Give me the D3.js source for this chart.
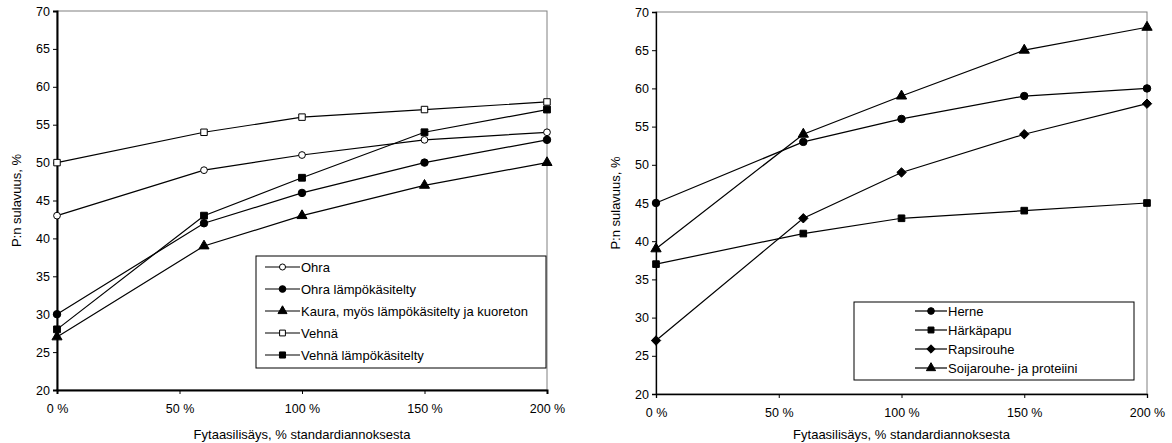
<!DOCTYPE html>
<html lang="fi">
<head>
<meta charset="utf-8">
<script src="https://d3js.org/d3.v7.min.js"></script>
<style>
  body { margin: 0; background: #fff; }
  text { font-family: "Liberation Sans", Arial, sans-serif; fill: #000; }
</style>
</head>
<body>
<div id="chart"></div>
<script>
// x positions of the measurements (% of standard dose)
const doses = [0, 60, 100, 150, 200];
const xTickValues = [0, 50, 100, 150, 200];
const yTickValues = [20, 25, 30, 35, 40, 45, 50, 55, 60, 65, 70];

// left panel: cereals
const ohra = [43, 49, 51, 53, 54];
const ohraLampo = [30, 42, 46, 50, 53];
const kaura = [27, 39, 43, 47, 50];
const vehna = [50, 54, 56, 57, 58];
const vehnaLampo = [28, 43, 48, 54, 57];
const leftNames = ["Ohra", "Ohra lämpökäsitelty", "Kaura, myös lämpökäsitelty ja kuoreton", "Vehnä", "Vehnä lämpökäsitelty"];

// right panel: protein feeds
const herne = [45, 53, 56, 59, 60];
const harkapapu = [37, 41, 43, 44, 45];
const rapsirouhe = [27, 43, 49, 54, 58];
const soija = [39, 54, 59, 65, 68];
const rightNames = ["Herne", "Härkäpapu", "Rapsirouhe", "Soijarouhe- ja proteiini"];

const yTitle = "P:n sulavuus, %";
const xTitle = "Fytaasilisäys, % standardiannoksesta";

const W = 1172, H = 443;
const svg = d3.select("#chart").append("svg").attr("width", W).attr("height", H);

// diamond drawn as a rotated square, like the Excel marker
const diamond = {
  draw(ctx, size) {
    const r = Math.sqrt(size / 2);
    ctx.moveTo(0, -r); ctx.lineTo(r, 0); ctx.lineTo(0, r); ctx.lineTo(-r, 0); ctx.closePath();
  }
};

const panels = [
  {
    box: { x0: 57, x1: 547, y0: 11, y1: 390 }, axisW: 2,
    series: [
      { name: leftNames[0], values: ohra, shape: d3.symbolCircle, size: 36, open: true },
      { name: leftNames[1], values: ohraLampo, shape: d3.symbolCircle, size: 44, open: false },
      { name: leftNames[2], values: kaura, shape: d3.symbolTriangle, size: 44, open: false },
      { name: leftNames[3], values: vehna, shape: d3.symbolSquare, size: 42, open: true },
      { name: leftNames[4], values: vehnaLampo, shape: d3.symbolSquare, size: 46, open: false }
    ],
    legend: { x: 256, y: 256, w: 290, h: 112, row: 22, first: 11, lineX: 265, lineLen: 35 },
    yTitleX: 18
  },
  {
    box: { x0: 656, x1: 1147, y0: 12, y1: 394 }, axisW: 1.3,
    series: [
      { name: rightNames[0], values: herne, shape: d3.symbolCircle, size: 44, open: false },
      { name: rightNames[1], values: harkapapu, shape: d3.symbolSquare, size: 44, open: false },
      { name: rightNames[2], values: rapsirouhe, shape: diamond, size: 44, open: false },
      { name: rightNames[3], values: soija, shape: d3.symbolTriangle, size: 46, open: false }
    ],
    legend: { x: 854, y: 302, w: 280, h: 78, row: 19, first: 9, lineX: 915, lineLen: 32 },
    yTitleX: 617
  }
];

panels.forEach(p => {
  const b = p.box;
  const x = d3.scaleLinear().domain([0, 200]).range([b.x0, b.x1]);
  const y = d3.scaleLinear().domain([20, 70]).range([b.y1, b.y0]);
  const g = svg.append("g");

  // plot area frame
  g.append("rect")
    .attr("x", b.x0).attr("y", b.y0)
    .attr("width", b.x1 - b.x0).attr("height", b.y1 - b.y0)
    .attr("fill", "none").attr("stroke", "#808080").attr("stroke-width", 1);

  const yAxis = g.append("g")
    .attr("transform", `translate(${b.x0},0)`)
    .call(d3.axisLeft(y).tickValues(yTickValues).tickSize(4).tickPadding(3));
  const xAxis = g.append("g")
    .attr("transform", `translate(0,${b.y1})`)
    .call(d3.axisBottom(x).tickValues(xTickValues).tickFormat(d => d + " %").tickSize(4).tickPadding(10));

  [yAxis, xAxis].forEach(a => {
    a.select(".domain").attr("stroke", "#000").attr("stroke-width", p.axisW);
    a.selectAll(".tick line").attr("stroke", "#000");
    a.selectAll("text").attr("font-size", 12.5).attr("font-family", "Liberation Sans, Arial, sans-serif");
  });

  g.append("text")
    .attr("transform", `translate(${p.yTitleX},${(b.y0 + b.y1) / 2}) rotate(-90)`)
    .attr("text-anchor", "middle").attr("dominant-baseline", "middle")
    .attr("font-size", 13).text(yTitle);
  g.append("text")
    .attr("x", (b.x0 + b.x1) / 2).attr("y", 439)
    .attr("text-anchor", "middle").attr("font-size", 13).text(xTitle);

  const line = d3.line().x((d, i) => x(doses[i])).y(d => y(d));

  p.series.forEach(s => {
    g.append("path").datum(s.values)
      .attr("d", line).attr("fill", "none")
      .attr("stroke", "#000").attr("stroke-width", 1.2);
  });
  p.series.forEach(s => {
    g.selectAll(null).data(s.values).enter().append("path")
      .attr("transform", (d, i) => `translate(${x(doses[i])},${y(d)})`)
      .attr("d", d3.symbol().type(s.shape).size(s.size))
      .attr("fill", s.open ? "#fff" : "#000")
      .attr("stroke", "#000").attr("stroke-width", 1);
  });

  // legend
  const L = p.legend;
  const lg = g.append("g");
  lg.append("rect")
    .attr("x", L.x).attr("y", L.y).attr("width", L.w).attr("height", L.h)
    .attr("fill", "#fff").attr("stroke", "#000").attr("stroke-width", 1);
  p.series.forEach((s, i) => {
    const yy = L.y + L.first + i * L.row;
    lg.append("line")
      .attr("x1", L.lineX).attr("x2", L.lineX + L.lineLen)
      .attr("y1", yy).attr("y2", yy)
      .attr("stroke", "#000").attr("stroke-width", 1.2);
    lg.append("path")
      .attr("transform", `translate(${L.lineX + L.lineLen / 2},${yy})`)
      .attr("d", d3.symbol().type(s.shape).size(s.size * 0.8))
      .attr("fill", s.open ? "#fff" : "#000")
      .attr("stroke", "#000").attr("stroke-width", 1);
    lg.append("text")
      .attr("x", L.lineX + L.lineLen + 1).attr("y", yy)
      .attr("dominant-baseline", "central")
      .attr("font-size", 13).text(s.name);
  });
});
</script>
</body>
</html>
